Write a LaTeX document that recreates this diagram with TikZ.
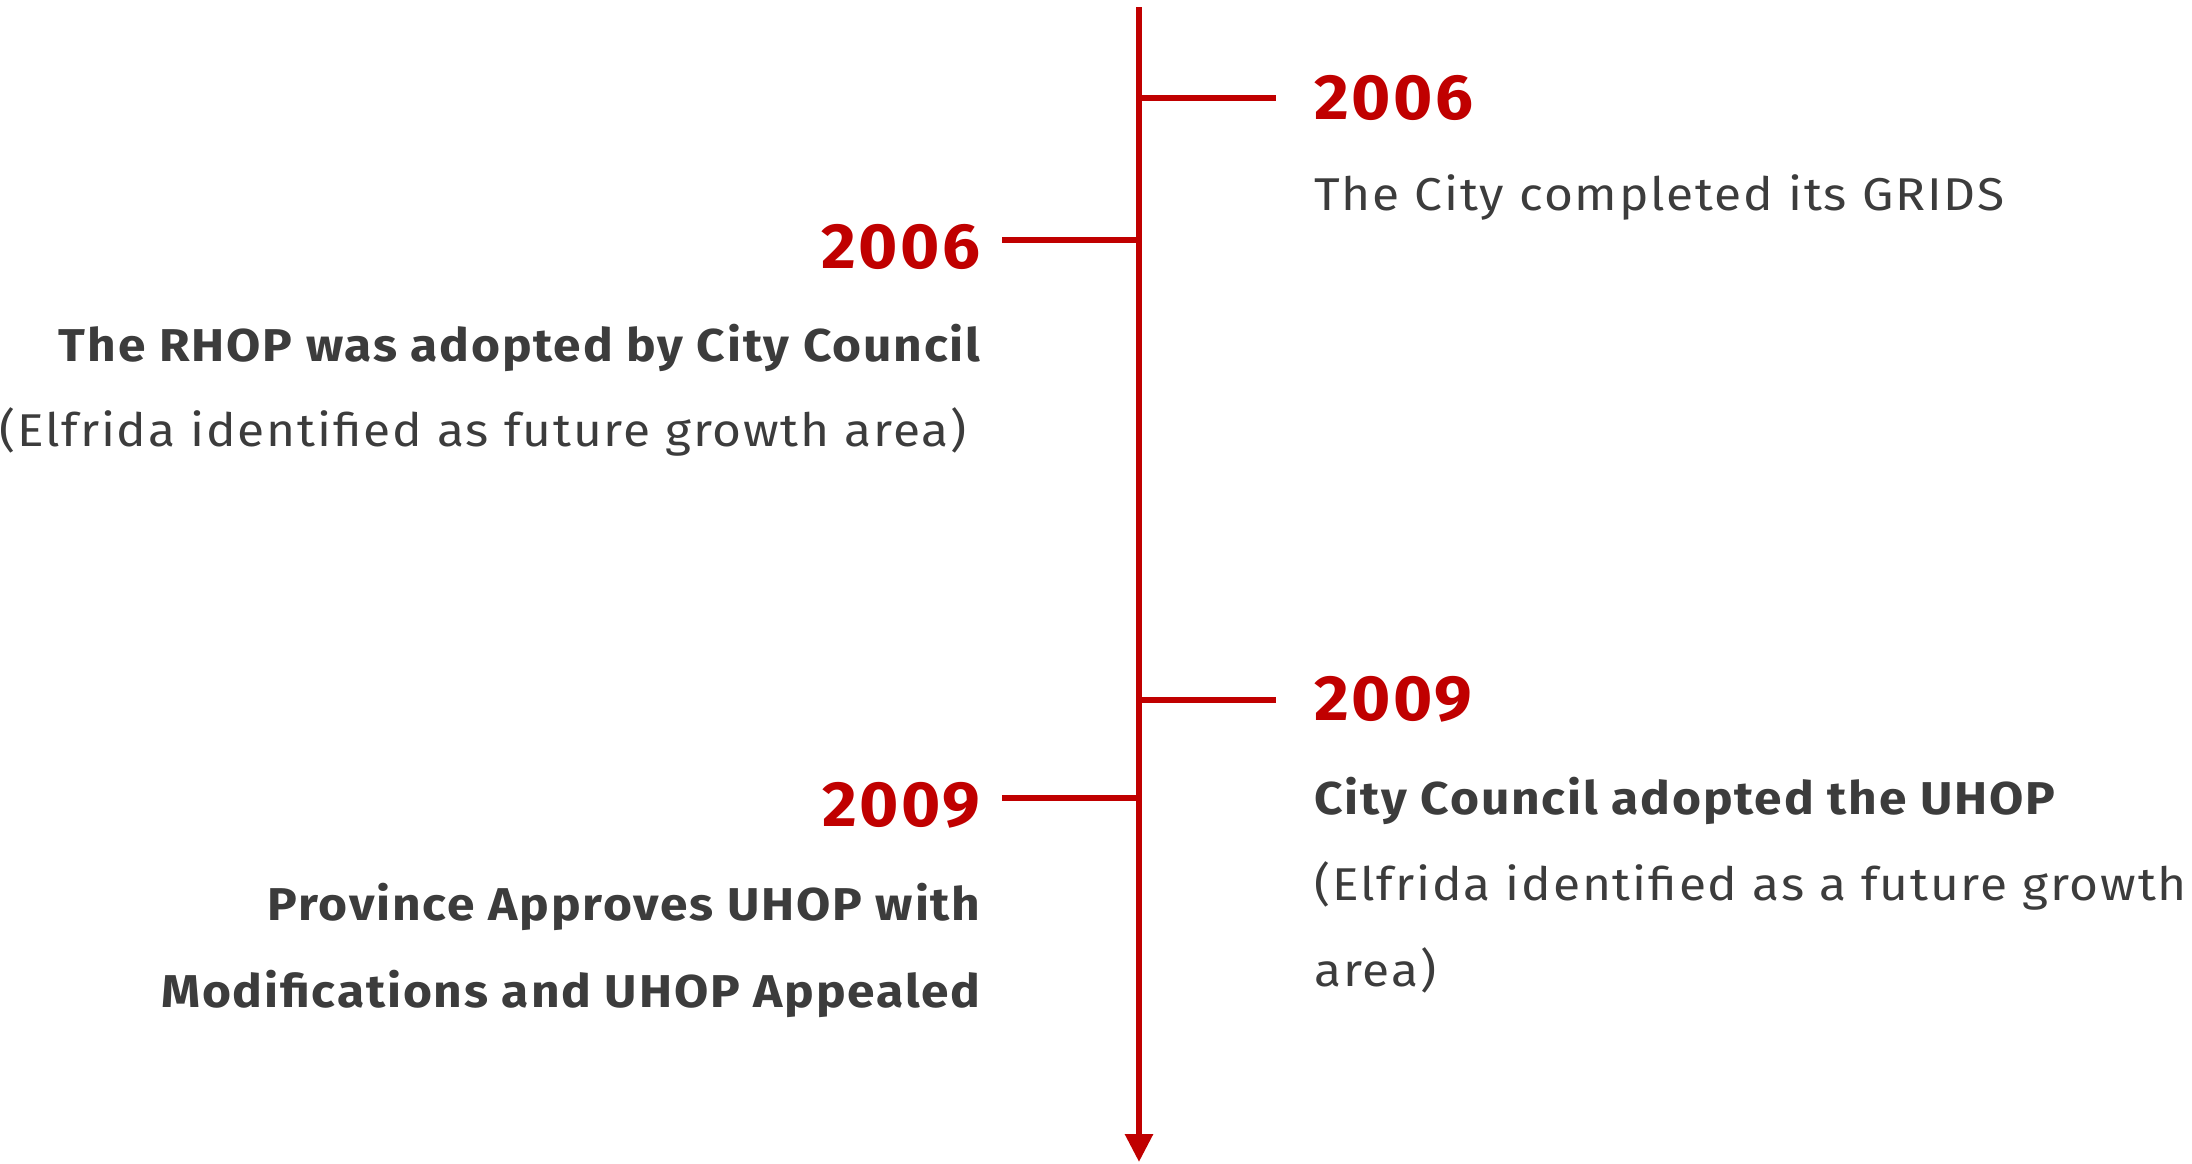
\documentclass[tikz,border=0pt]{standalone}
\usepackage{fontspec}
\setmainfont{Fira Sans}[FakeStretch=1.08,LetterSpace=4]
\newfontfamily\yearfont{Fira Sans}[FakeStretch=1.05,LetterSpace=4]
\usetikzlibrary{arrows.meta}
\definecolor{tlred}{HTML}{C00000}
\definecolor{tlgrey}{HTML}{3C3C3C}
\begin{document}
\begin{tikzpicture}[x=0.5pt,y=-0.5pt,
  axis/.style={draw=tlred,line width=3pt},
  tick/.style={draw=tlred,line width=3pt},
  year/.style={inner sep=0,text=tlred,font=\yearfont\fontsize{32}{38}\selectfont\bfseries},
  body/.style={inner sep=0,text=tlgrey,font=\fontsize{23}{28}\selectfont},
  bodyb/.style={inner sep=0,text=tlgrey,font=\fontsize{23}{28}\selectfont\bfseries}]
\useasboundingbox (0,0) rectangle (2192,1163);
% axis
\coordinate (top) at (1139,7);
\coordinate (bot) at (1139,1162);
\draw[axis,-{Triangle[width=13.5pt,length=14pt]}] (top) -- (bot);
% tick anchors
\coordinate (a1) at (1139,98);  \coordinate (t1) at (1276,98);
\coordinate (a2) at (1139,240); \coordinate (t2) at (1002,240);
\coordinate (a3) at (1139,700); \coordinate (t3) at (1276,700);
\coordinate (a4) at (1139,798); \coordinate (t4) at (1002,798);
\draw[tick] (a1) -- (t1);
\draw[tick] (a2) -- (t2);
\draw[tick] (a3) -- (t3);
\draw[tick] (a4) -- (t4);
% right 2006
\node[year,anchor=base west] (y1) at (1314,119) {2006};
\node[body,anchor=base west] (d1) at (1314,210) {The City completed its GRIDS};
% left 2006
\node[year,anchor=base east] (y2) at (981,268) {2006};
\node[bodyb,anchor=base east] (d2a) at (981,361) {The RHOP was adopted by City Council};
\node[body,anchor=base east] (d2b) at (967,446) {(Elfrida identified as future growth area)};
% right 2009
\node[year,anchor=base west] (y3) at (1314,720) {2009};
\node[bodyb,anchor=base west] (d3a) at (1314,814) {City Council adopted the UHOP};
\node[body,anchor=base west] (d3b) at (1314,900) {(Elfrida identified as a future growth};
\node[body,anchor=base west] (d3c) at (1314,986) {area)};
% left 2009
\node[year,anchor=base east] (y4) at (981,826) {2009};
\node[bodyb,anchor=base east] (d4a) at (981,920) {Province Approves UHOP with};
\node[bodyb,anchor=base east] (d4b) at (981,1007) {Modifications and UHOP Appealed};
\end{tikzpicture}
\end{document}
